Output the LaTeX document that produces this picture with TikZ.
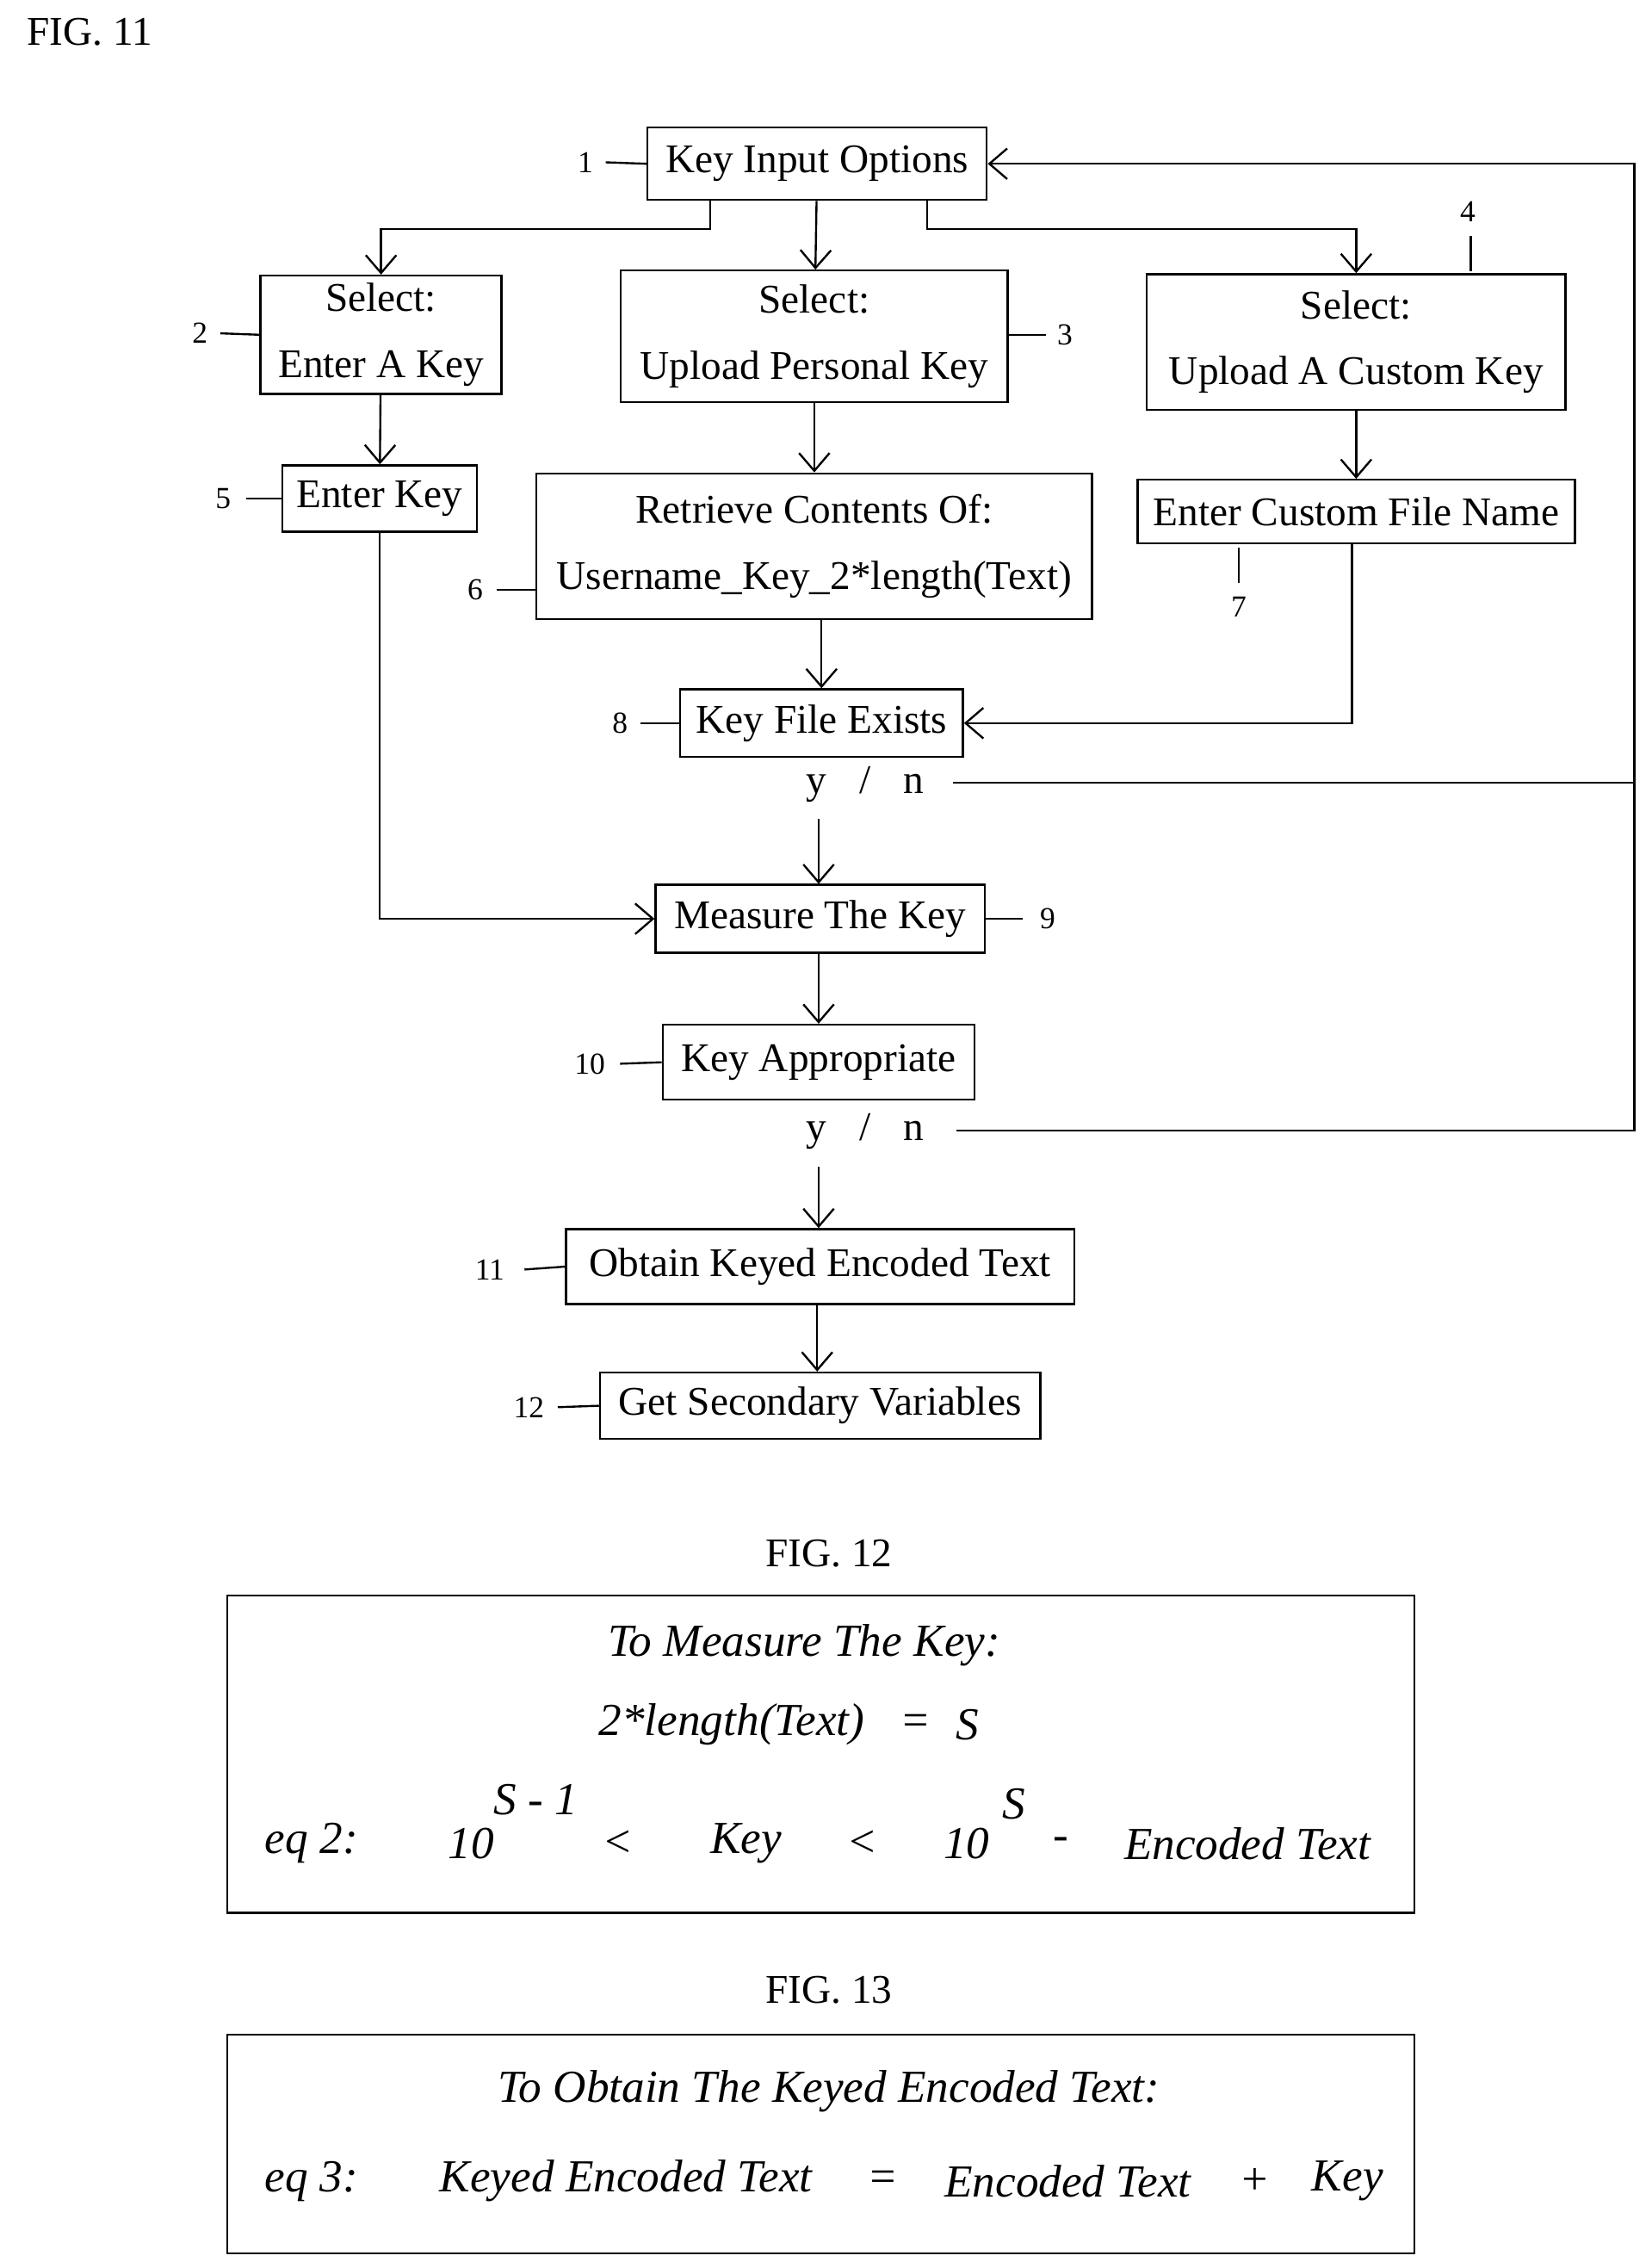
\documentclass[tikz,border=0pt]{standalone}
\usepackage{fontspec}
\setmainfont{Liberation Serif}
\usetikzlibrary{arrows.meta}

\begin{document}
\begin{tikzpicture}[x=0.02cm,y=-0.02cm,line width=0.8pt,>={Straight Barb[length=7pt,width=12pt]}]
    \tikzset{box/.style={draw,rectangle,inner sep=0pt,align=center,font=\fontsize{16}{26}\selectfont}}
    \tikzset{num/.style={font=\fontsize{12}{14}\selectfont}}
    \tikzset{eqt/.style={font=\fontsize{18}{20}\selectfont\itshape}}
    \tikzset{fig/.style={font=\fontsize{16}{18}\selectfont}}
    \useasboundingbox (0,0) rectangle (1140,1565);

    \node[fig] (f11) at (62,22) {FIG. 11};
    \node[box,minimum width=235*0.567pt,minimum height=50*0.567pt] (n1) at (564,113) {Key Input Options};
    \node[box,minimum width=167*0.567pt,minimum height=82*0.567pt] (n2) at (263,231) {Select:\\Enter A Key};
    \node[box,minimum width=268*0.567pt,minimum height=91*0.567pt] (n3) at (562,232) {Select:\\Upload Personal Key};
    \node[box,minimum width=290*0.567pt,minimum height=94*0.567pt] (n4) at (936,236) {Select:\\Upload A Custom Key};
    \node[box,minimum width=135*0.567pt,minimum height=46*0.567pt] (n5) at (262,344) {Enter Key};
    \node[box,minimum width=385*0.567pt,minimum height=101*0.567pt] (n6) at (562,377) {Retrieve Contents Of:\\Username\_Key\_2*length(Text)};
    \node[box,minimum width=303*0.567pt,minimum height=44*0.567pt] (n7) at (936,353) {Enter Custom File Name};
    \node[box,minimum width=196*0.567pt,minimum height=47*0.567pt] (n8) at (567,499) {Key File Exists};
    \node[box,draw=none] (yn1) at (597,541) {y\hspace{0.8em}/\hspace{0.8em}n};
    \node[box,minimum width=228*0.567pt,minimum height=47*0.567pt] (n9) at (566,634) {Measure The Key};
    \node[box,minimum width=216*0.567pt,minimum height=52*0.567pt] (n10) at (565,733) {Key Appropriate};
    \node[box,draw=none] (yn2) at (597,781) {y\hspace{0.8em}/\hspace{0.8em}n};
    \node[box,minimum width=352*0.567pt,minimum height=52*0.567pt] (n11) at (566,874) {Obtain Keyed Encoded Text};
    \node[box,minimum width=305*0.567pt,minimum height=46*0.567pt] (n12) at (566,970) {Get Secondary Variables};

    % reference numerals
    \node[num] (l1) at (404,112) {1};
    \node[num] (l2) at (138,230) {2};
    \node[num] (l3) at (735,231) {3};
    \node[num] (l4) at (1013,146) {4};
    \node[num] (l5) at (154,344) {5};
    \node[num] (l6) at (328,407) {6};
    \node[num] (l7) at (855,419) {7};
    \node[num] (l8) at (428,499) {8};
    \node[num] (l9) at (723,634) {9};
    \node[num] (l10) at (407,734) {10};
    \node[num] (l11) at (338,876) {11};
    \node[num] (l12) at (365,971) {12};
    \draw (418,112) -- (n1.west);
    \draw (152,230) -- (n2.west);
    \draw (n3.east |- 0,231) -- (722,231);
    \draw (1015,163) -- (1015,187);
    \draw (170,344) -- (n5.west);
    \draw (343,407) -- (n6.west |- 0,407);
    \draw (855,378) -- (855,402);
    \draw (442,499) -- (n8.west);
    \draw (n9.east) -- (706,634);
    \draw (428,734) -- (n10.west);
    \draw (362,876) -- (n11.west);
    \draw (385,971) -- (n12.west);

    % flow
    \draw[->] (n1) -- (n3);
    \draw[->] (n1.south -| 490,0) -- (490,158) -| (n2);
    \draw[->] (n1.south -| 640,0) -- (640,158) -| (n4);
    \draw[->] (n2) -- (n5);
    \draw[->] (n3) -- (n6);
    \draw[->] (n4) -- (n7);
    \draw[->] (n6.south -| n8) -- (n8);
    \draw[->] (n7.south -| 933,0) |- (n8.east);
    \draw (658,540) -- (1128,540);
    \draw[->] (660,780) -- (1128,780) -- (1128,113) -- (n1.east);
    \draw[->] (565,565) -- (n9.north -| 565,0);
    \draw[->] (n5) |- (n9.west);
    \draw[->] (n9.south -| n10) -- (n10);
    \draw[->] (565,805) -- (n11.north -| 565,0);
    \draw[->] (n11.south -| 564,0) -- (n12.north -| 564,0);

    % FIG. 12
    \node[fig] (f12) at (572,1072) {FIG. 12};
    \draw (157,1101) rectangle (976,1320);
    \node[eqt] (e1) at (555,1135) {To Measure The Key:};
    \node[eqt] (e2) at (505,1190) {2*length(Text)};
    \node[eqt] at (632,1190) {=};
    \node[eqt] at (668,1190) {S};
    \node[eqt] at (215,1272) {eq 2:};
    \node[eqt] at (325,1272) {10};
    \node[eqt] at (370,1242) {S - 1};
    \node[eqt] at (426,1272) {<};
    \node[eqt] at (515,1272) {Key};
    \node[eqt] at (595,1272) {<};
    \node[eqt] at (667,1272) {10};
    \node[eqt] at (700,1245) {S};
    \node[eqt] at (732,1272) {-};
    \node[eqt] at (861,1272) {Encoded Text};

    % FIG. 13
    \node[fig] (f13) at (572,1373) {FIG. 13};
    \draw (157,1404) rectangle (976,1555);
    \node[eqt] at (572,1443) {To Obtain The Keyed Encoded Text:};
    \node[eqt] at (215,1505) {eq 3:};
    \node[eqt] at (432,1505) {Keyed Encoded Text};
    \node[eqt] at (609,1505) {=};
    \node[eqt] at (737,1505) {Encoded Text};
    \node[eqt] at (866,1505) {+};
    \node[eqt] at (930,1505) {Key};
\end{tikzpicture}
\end{document}
